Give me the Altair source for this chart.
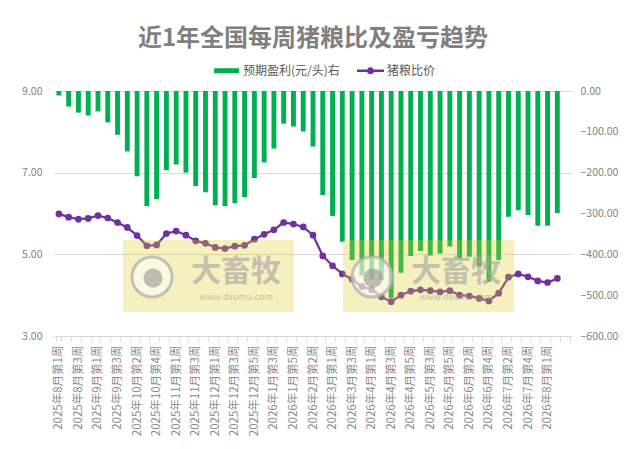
import json
import altair as alt
import pandas as pd

# ---------------- data ----------------
weeks = [
    "2025年8月第1周", "2025年8月第2周", "2025年8月第3周", "2025年8月第4周",
    "2025年9月第1周", "2025年9月第2周", "2025年9月第3周", "2025年9月第4周",
    "2025年10月第2周", "2025年10月第3周", "2025年10月第4周", "2025年10月第5周",
    "2025年11月第1周", "2025年11月第2周", "2025年11月第3周", "2025年11月第4周",
    "2025年12月第1周", "2025年12月第2周", "2025年12月第3周", "2025年12月第4周",
    "2025年12月第5周", "2026年1月第2周", "2026年1月第3周", "2026年1月第4周",
    "2026年1月第5周", "2026年2月第1周", "2026年2月第2周", "2026年2月第3周",
    "2026年3月第1周", "2026年3月第2周", "2026年3月第3周", "2026年3月第4周",
    "2026年4月第1周", "2026年4月第2周", "2026年4月第3周", "2026年4月第4周",
    "2026年4月第5周", "2026年5月第2周", "2026年5月第3周", "2026年5月第4周",
    "2026年5月第5周", "2026年6月第1周", "2026年6月第2周", "2026年6月第3周",
    "2026年6月第4周", "2026年7月第1周", "2026年7月第2周", "2026年7月第3周",
    "2026年7月第4周", "2026年7月第5周", "2026年8月第1周", "2026年8月第2周",
]
empty_slot = " "  # trailing empty category of the original chart
axis_domain = weeks + [empty_slot]
shown_labels = weeks[0::2]

profit = [
    -11, -38, -53, -60, -50, -77, -107, -148, -209, -282,
    -265, -194, -180, -200, -233, -248, -280, -282, -275, -260,
    -213, -175, -141, -80, -87, -99, -136,
    -255, -306, -369, -414, -452, -461, -463, -507, -445, -404,
    -392, -403, -398, -381, -410, -406, -430, -467, -414, -308,
    -292, -304, -330, -330, -299,
]
ratio = [
    5.99, 5.91, 5.86, 5.88, 5.95, 5.89, 5.78, 5.66, 5.46, 5.21,
    5.23, 5.51, 5.57, 5.47, 5.33, 5.27, 5.17, 5.14, 5.20, 5.22,
    5.37, 5.49, 5.60, 5.78, 5.74, 5.67, 5.47,
    4.96, 4.72, 4.52, 4.39, 4.21, 4.14, 3.96, 3.84, 4.00, 4.10,
    4.13, 4.11, 4.08, 4.11, 4.00, 3.98, 3.92, 3.86, 4.05, 4.44,
    4.52, 4.45, 4.35, 4.31, 4.41,
]
left_ticks = [3, 5, 7, 9]
right_ticks = [-600, -500, -400, -300, -200, -100, 0]

BAR_NAME = "预期盈利(元/头)右"
LINE_NAME = "猪粮比价"
TITLE = "近1年全国每周猪粮比及盈亏趋势"
series_names = [BAR_NAME, LINE_NAME]

df = pd.DataFrame({"week": weeks, "profit": profit, "ratio": ratio})
legend_df = pd.DataFrame({"series": series_names, "week": [weeks[0], weeks[0]]})

# ---------------- styles ----------------
GREEN = "#00b050"
PURPLE = "#7030a0"
GRAY = "#7f7f7f"
GRID = "#d9d9d9"
FONT = "Noto Sans CJK SC"

BAR_PATH = "M-0.94,-0.19H0.94V0.19H-0.94Z"
LINE_PATH = ("M-1.02,-0.09H1.02V0.09H-1.02Z "
             "M0.27,0A0.27,0.27 0 1,1 -0.27,0A0.27,0.27 0 1,1 0.27,0Z")

label_expr = ("indexof(" + json.dumps(shown_labels, ensure_ascii=False)
              + ", datum.value) >= 0 ? datum.label : ''")

x_enc = alt.X(
    "week:N",
    scale=alt.Scale(domain=axis_domain, paddingInner=0.5, paddingOuter=0.25),
    axis=alt.Axis(
        title=None, labelAngle=-90, labelExpr=label_expr, tickBand="extent",
        labelFontSize=11.5, labelColor="#8c8c8c", labelFont=FONT,
        labelPadding=4, tickSize=5, tickColor=GRID, domainColor=GRID,
        grid=False, labelOverlap=False,
    ),
)

bars = alt.Chart(df).mark_bar(color=GREEN).encode(
    x=x_enc,
    y=alt.Y(
        "profit:Q",
        scale=alt.Scale(domain=[-600, 0], nice=False, zero=True),
        axis=alt.Axis(
            orient="right", values=right_ticks, format=".2f", title=None, grid=False,
            domain=False, ticks=False, labelFontSize=10.5, labelColor=GRAY,
            labelFont=FONT, labelPadding=8,
        ),
    ),
)

line = alt.Chart(df).mark_line(
    color=PURPLE, strokeWidth=2.25,
    point=alt.OverlayMarkDef(filled=True, size=45, color=PURPLE),
).encode(
    x=x_enc,
    y=alt.Y(
        "ratio:Q",
        scale=alt.Scale(domain=[3, 9], nice=False, zero=False),
        axis=alt.Axis(
            orient="left", values=left_ticks, format=".2f", title=None, grid=True,
            gridColor=GRID, domain=False, ticks=False, labelFontSize=10.5,
            labelColor=GRAY, labelFont=FONT, labelPadding=12,
        ),
    ),
)

legend_props = dict(
    orient="none", legendX=159, legendY=-34, direction="horizontal", title=None,
    symbolSize=700, labelFontSize=12, labelColor="#595959", labelFont=FONT,
    labelOffset=3, columnPadding=17, padding=0, symbolStrokeWidth=0,
)

# legend-only layer: points placed outside the clipped view, legend built from scales
legend_layer = alt.Chart(legend_df).mark_point(
    filled=True, size=700, clip=True, opacity=1
).encode(
    x=x_enc,
    y=alt.Y("val:Q", scale=alt.Scale(domain=[3, 9], nice=False, zero=False), axis=None),
    color=alt.Color(
        "series:N",
        scale=alt.Scale(domain=series_names, range=[GREEN, PURPLE]),
        legend=alt.Legend(**legend_props),
    ),
    shape=alt.Shape(
        "series:N",
        scale=alt.Scale(domain=series_names, range=[BAR_PATH, LINE_PATH]),
        legend=alt.Legend(**legend_props),
    ),
).transform_calculate(val="100")

# ---------------- watermark decoration (大畜牧), semi-transparent overlay ----------------
one = pd.DataFrame({"k": [0]})
wm_layers = []
for dx in (0, 220):
    wm_layers.append(
        alt.Chart(one).mark_rect(color="#decd26", opacity=0.3).encode(
            x=alt.value(69 + dx), x2=alt.value(240 + dx),
            y=alt.value(149), y2=alt.value(221),
        )
    )
    wm_layers.append(
        alt.Chart(one).mark_point(
            shape="circle", filled=True, fill="#ffffff", fillOpacity=0.55,
            stroke="#b4b4b4", strokeOpacity=0.8, strokeWidth=3, size=1600,
        ).encode(x=alt.value(98 + dx), y=alt.value(186))
    )
    wm_layers.append(
        alt.Chart(one).mark_point(
            shape="circle", filled=True, color="#8a8a8a", size=360, opacity=0.55,
        ).encode(x=alt.value(99 + dx), y=alt.value(187))
    )
    wm_layers.append(
        alt.Chart(one).mark_text(
            text="大畜牧", fontSize=30, fontWeight="bold", color="#a3a3a3",
            font=FONT, opacity=0.6,
        ).encode(x=alt.value(182 + dx), y=alt.value(181))
    )
    wm_layers.append(
        alt.Chart(one).mark_text(
            text="www.dxumu.com", fontSize=9, color="#a3a3a3", font=FONT,
            opacity=0.6,
        ).encode(x=alt.value(182 + dx), y=alt.value(206))
    )

chart = alt.layer(bars, line, legend_layer, *wm_layers).resolve_scale(
    y="independent"
).properties(
    width=518,
    height=245,
    autosize=alt.AutoSizeParams(type="none"),
    padding={"left": 46, "top": 83, "right": 50, "bottom": 104},
    title=alt.Title(
        TITLE, fontSize=24, fontWeight="bold", color=GRAY, font=FONT,
        anchor="middle", frame="group", offset=6,
    ),
).configure_view(stroke=None)

chart.save("out.html", embed_options={"renderer": "svg", "actions": False})
